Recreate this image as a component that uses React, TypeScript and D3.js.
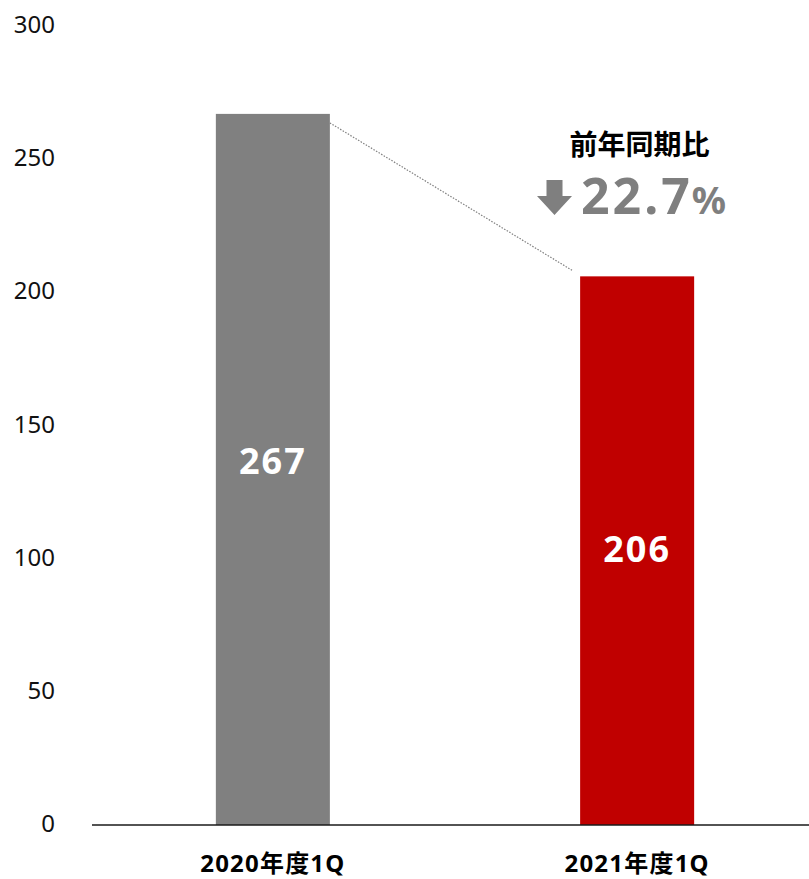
import React from "react";
import * as d3 from "d3";

const categories = ["2020年度1Q", "2021年度1Q"];
const values = [267, 206];
const barColors = ["#808080", "#C00000"];
const yTicks = [0, 50, 100, 150, 200, 250, 300];
const changeTitle = "前年同期比";
const changeValue = "22.7";
const changeUnit = "%";

const W = 809;
const H = 879;

export default function App() {
  const y = d3.scaleLinear().domain([0, 300]).range([825, 26]);
  const x = d3
    .scaleBand<string>()
    .domain(categories)
    .range([92, 818])
    .paddingInner(0.687)
    .paddingOuter(0.34);
  const bw = x.bandwidth();
  const font = "'Noto Sans', 'Noto Sans CJK JP', sans-serif";
  const labelShift = [-9, -2];

  const x1 = (x(categories[0]) as number) + bw;
  const y1 = y(values[0]) + 9;
  const x2 = (x(categories[1]) as number) - 8;
  const y2 = y(values[1]) - 6;

  // arrow geometry
  const ax = 554.5;
  const aTop = 180;
  const aBot = 215;
  const headY = 196;
  const shaftHalf = 8;
  const headHalf = 17.5;
  const arrowPath = d3.path();
  arrowPath.moveTo(ax - shaftHalf, aTop);
  arrowPath.lineTo(ax + shaftHalf, aTop);
  arrowPath.lineTo(ax + shaftHalf, headY);
  arrowPath.lineTo(ax + headHalf, headY);
  arrowPath.lineTo(ax, aBot);
  arrowPath.lineTo(ax - headHalf, headY);
  arrowPath.lineTo(ax - shaftHalf, headY);
  arrowPath.closePath();

  return (
    <svg
      width={W}
      height={H}
      style={{ position: "absolute", left: 0, top: 0, background: "#fff" }}
      fontFamily={font}
    >
      {yTicks.map((t) => (
        <text
          key={t}
          x={55}
          y={y(t) - 2.5}
          textAnchor="end"
          dominantBaseline="central"
          fontSize={24}
          fill="#111"
        >
          {t}
        </text>
      ))}
      {categories.map((c, i) => (
        <rect
          key={c}
          x={x(c)}
          y={y(values[i])}
          width={bw}
          height={y(0) - y(values[i])}
          fill={barColors[i]}
        />
      ))}
      {categories.map((c, i) => (
        <text
          key={"v" + c}
          x={(x(c) as number) + bw / 2}
          y={(y(values[i]) + y(0)) / 2 + labelShift[i]}
          textAnchor="middle"
          dominantBaseline="central"
          fontSize={36}
          fontWeight="bold"
          letterSpacing={2}
          fill="#fff"
        >
          {values[i]}
        </text>
      ))}
      <line x1={92} x2={809} y1={y(0)} y2={y(0)} stroke="#1a1a1a" strokeWidth={1.5} />
      {categories.map((c) => (
        <text
          key={"c" + c}
          x={(x(c) as number) + bw / 2}
          y={872}
          textAnchor="middle"
          fontSize={24}
          fontWeight="bold"
          letterSpacing={1.2}
          fill="#000"
        >
          {c}
        </text>
      ))}
      <line
        x1={x1}
        y1={y1}
        x2={x2}
        y2={y2}
        stroke="#7f7f7f"
        strokeWidth={1.2}
        strokeDasharray="1.5 1.5"
      />
      <text
        x={639.5}
        y={155}
        textAnchor="middle"
        fontSize={28}
        fontWeight="bold"
        fill="#000"
      >
        {changeTitle}
      </text>
      <path d={arrowPath.toString()} fill="#7f7f7f" />
      <text x={581} y={214} fontWeight="bold" fill="#7f7f7f">
        <tspan fontSize={50} letterSpacing={3}>
          {changeValue}
        </tspan>
        <tspan fontSize={38} dx={-1}>{changeUnit}</tspan>
      </text>
    </svg>
  );
}
